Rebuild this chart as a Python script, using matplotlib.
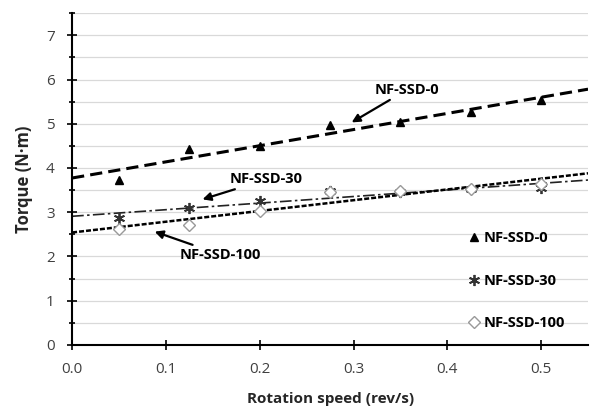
import numpy as np
import matplotlib.pyplot as plt
from matplotlib.ticker import MultipleLocator

speed = [0.05, 0.125, 0.2, 0.275, 0.35, 0.425, 0.5]
torque_ssd0 = [3.72, 4.42, 4.50, 4.97, 5.03, 5.26, 5.54]
torque_ssd30 = [2.86, 3.10, 3.25, 3.48, 3.45, 3.53, 3.55]
torque_ssd100 = [2.63, 2.72, 3.02, 3.45, 3.48, 3.53, 3.64]
labels = ["NF-SSD-0", "NF-SSD-30", "NF-SSD-100"]

plt.rcParams['font.family'] = ['Open Sans', 'DejaVu Sans']

fig = plt.figure(figsize=(5.91, 4.12), dpi=100)
ax = fig.add_axes([0.122, 0.163, 0.873, 0.805])

x_fit = np.array([0.0, 0.55])

# trend lines
styles = [
    dict(color="black", lw=2.2, dashes=(4, 2)),
    dict(color="#222222", lw=1.2, dashes=(7, 2, 1.5, 2)),
    dict(color="black", lw=1.8, dashes=(2, 0.8)),
]
for ys, st in zip([torque_ssd0, torque_ssd30, torque_ssd100], styles):
    k, b = np.polyfit(speed, ys, 1)
    ax.plot(x_fit, k * x_fit + b, zorder=2, **st)

ax.plot(speed, torque_ssd0, linestyle="none", marker="^", ms=6,
        color="black", label=labels[0], zorder=3)
ax.plot(speed, torque_ssd30, linestyle="none", marker=(6, 2, 0), ms=8,
        mew=1.3, color="#333333", label=labels[1], zorder=3)
ax.plot(speed, torque_ssd100, linestyle="none", marker="D", ms=6,
        mfc="white", mec="#999999", mew=1.0, label=labels[2], zorder=3)

# annotations
ann_kw = dict(fontsize=10.5, fontweight="bold", va="center", ha="left",
              arrowprops=dict(arrowstyle="-|>", color="black", lw=1.6,
                              mutation_scale=12, shrinkA=0, shrinkB=0))
ax.annotate("NF-SSD-0", xy=(0.298, 5.03), xytext=(0.322, 5.76), **ann_kw)
ax.annotate("NF-SSD-30", xy=(0.139, 3.29), xytext=(0.168, 3.74), **ann_kw)
ax.annotate("NF-SSD-100", xy=(0.088, 2.56), xytext=(0.115, 2.04), **ann_kw)

ax.set_xlim(0, 0.55)
ax.set_ylim(0, 7.5)
ax.yaxis.set_major_locator(MultipleLocator(1))
ax.yaxis.set_minor_locator(MultipleLocator(0.5))
ax.set_xticks([0.0, 0.1, 0.2, 0.3, 0.4, 0.5])
ax.set_xticklabels(["0.0", "0.1", "0.2", "0.3", "0.4", "0.5"])

ax.grid(axis="y", which="both", color="#d9d9d9", lw=0.9)
ax.set_axisbelow(True)

for s in ["top", "right"]:
    ax.spines[s].set_visible(False)
ax.spines["left"].set_linewidth(1.5)
ax.spines["bottom"].set_linewidth(1.5)
ax.tick_params(axis="both", which="both", direction="inout", labelsize=11,
               labelcolor="#404040", width=1.2, pad=9)
ax.tick_params(axis="both", which="major", length=7)
ax.tick_params(axis="y", which="minor", length=5)

ax.set_xlabel("Rotation speed (rev/s)", fontsize=11, fontweight="bold",
              color="#262626", labelpad=11)
ax.set_ylabel("Torque (N·m)", fontsize=12, fontweight="bold",
              color="#262626", labelpad=9)

ax.legend(loc="lower right", bbox_to_anchor=(0.98, 0.005), frameon=False,
          prop=dict(weight="bold", size=10.5),
          handlelength=0.6, handletextpad=0.3, labelspacing=1.95)

plt.savefig("out.png", dpi=100)
